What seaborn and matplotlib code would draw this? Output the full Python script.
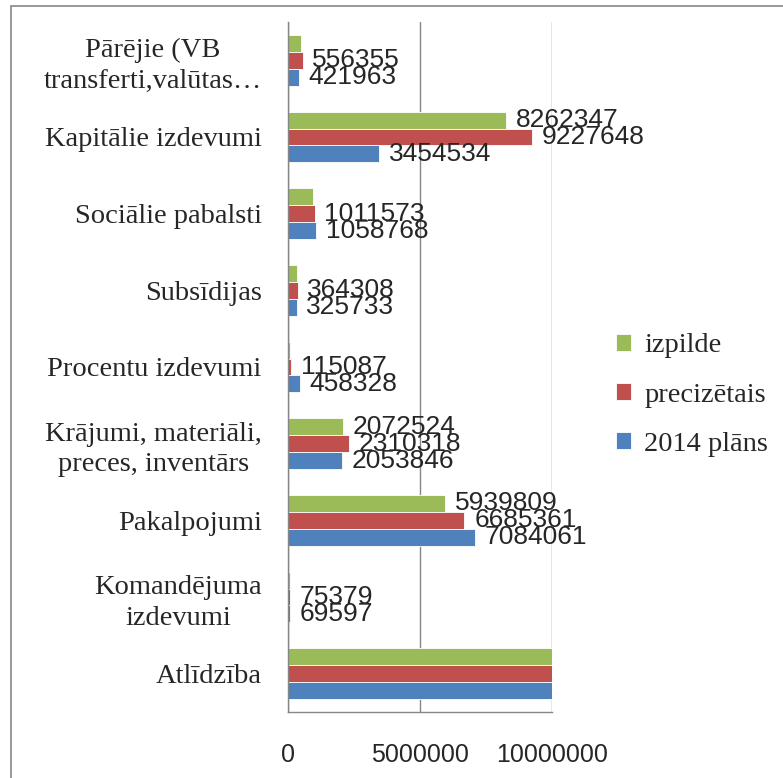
import seaborn as sns
import matplotlib.pyplot as plt
import pandas as pd
from matplotlib import font_manager
from matplotlib.patches import Rectangle

# ---------------------------
# 1. Data
# ---------------------------
categories = [
    "Pārējie (VB\ntransferti,valūtas…",
    "Kapitālie izdevumi",
    "Sociālie pabalsti",
    "Subsīdijas",
    "Procentu izdevumi",
    "Krājumi, materiāli,\npreces, inventārs",
    "Pakalpojumi",
    "Komandējuma\nizdevumi",
    "Atlīdzība",
]
series = ["izpilde", "precizētais", "2014 plāns"]
izpilde = [490000, 8262347, 950000, 330000, 80000, 2072524, 5939809, 60000, 13200000]
precizetais = [556355, 9227648, 1011573, 364308, 115087, 2310318, 6685361, 75379, 13800000]
plans_2014 = [421963, 3454534, 1058768, 325733, 458328, 2053846, 7084061, 69597, 13600000]
# data labels that the original chart leaves out (overlap / off the axis)
hidden_labels = {
    "izpilde": [0, 2, 3, 4, 7, 8],
    "precizētais": [8],
    "2014 plāns": [8],
}
colors = ["#9BBB59", "#C0504D", "#4F81BD"]

df = pd.DataFrame({
    "Category": categories * 3,
    "Series": [s for s in series for _ in categories],
    "Value": izpilde + precizetais + plans_2014,
})

# ---------------------------
# 2. Fonts
# ---------------------------
installed = {f.name for f in font_manager.fontManager.ttflist}
serif_font = "Liberation Serif"
narrow_font = next((f for f in ["Liberation Sans Narrow", "DejaVu Sans Condensed"]
                    if f in installed), "Liberation Sans")

sns.set_style("white")
plt.rcParams["font.family"] = [serif_font, "DejaVu Sans"]

# ---------------------------
# 3. Plot
# ---------------------------
fig = plt.figure(figsize=(7.83, 7.78), dpi=100)
ax = fig.add_axes([288 / 783, 1 - 712 / 778, (552 - 288) / 783, (712 - 22) / 778])

sns.barplot(
    data=df, y="Category", x="Value", hue="Series",
    order=categories, hue_order=series, palette=colors, saturation=1,
    orient="h", width=0.66, edgecolor="white", linewidth=0.6,
    ax=ax, legend=True,
)

ax.set_xlim(0, 10000000)
ax.set_ylim(len(categories) - 0.5, -0.5)
ax.set_xticks([0, 5000000, 10000000])
ax.set_xticklabels(["0", "5000000", "10000000"], family=narrow_font, fontsize=18)
ax.set_xlabel("")
ax.set_ylabel("")
ax.tick_params(axis="y", length=0, pad=19, labelsize=20.5)
ax.tick_params(axis="x", length=8, width=1, color="#868686", pad=14, direction="out")
for lbl in ax.get_yticklabels():
    lbl.set_multialignment("center")
    lbl.set_linespacing(1.3)

# category separator ticks on the value axis
ax.set_yticks([i - 0.5 for i in range(len(categories) + 1)], minor=True)
ax.tick_params(axis="y", which="minor", length=8, width=1, color="#868686", direction="out")

ax.grid(axis="x", color="#868686", linewidth=1)
ax.set_axisbelow(True)
for side in ["top", "right"]:
    ax.spines[side].set_visible(False)
for side in ["left", "bottom"]:
    ax.spines[side].set_color("#868686")
    ax.spines[side].set_linewidth(1)

# data labels
for container, name in zip(ax.containers, series):
    labels = []
    for i, v in enumerate(container.datavalues):
        labels.append("" if i in hidden_labels[name] else f"{int(v)}")
    ax.bar_label(container, labels=labels, padding=7, family=narrow_font,
                 fontsize=19, clip_on=False)

# legend
handles, leg_labels = ax.get_legend_handles_labels()
ax.legend(handles, leg_labels, loc="center left", bbox_to_anchor=(590 / 783, 1 - 395 / 778),
          bbox_transform=fig.transFigure, frameon=False, fontsize=20.5,
          handlelength=0.55, handleheight=0.55, labelspacing=0.85, handletextpad=0.45)

# outer chart frame
fig.patches.append(Rectangle((11 / 783, -0.05), 1.2, 1 - 6 / 778 + 0.05,
                             transform=fig.transFigure, fill=False,
                             edgecolor="#868686", linewidth=1.2))

plt.savefig("out.png", dpi=100)
plt.close()
